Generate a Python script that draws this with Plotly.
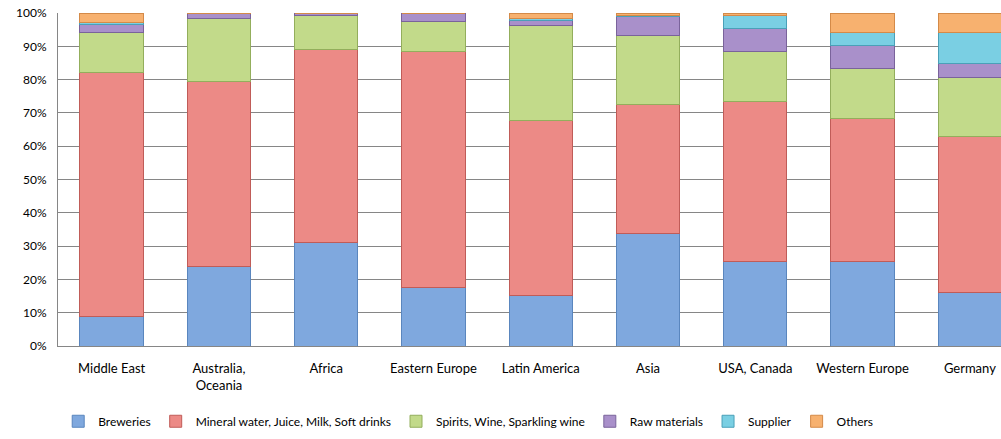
import plotly.graph_objects as go

regions = ["Middle East", "Australia,<br>Oceania", "Africa", "Eastern Europe", "Latin America",
           "Asia", "USA, Canada", "Western Europe", "Germany"]

breweries = [9.0, 24.0, 31.0, 17.7, 15.2, 33.8, 25.4, 25.4, 16.0]
mineral   = [73.0, 55.5, 58.0, 70.6, 52.6, 38.7, 47.9, 42.9, 46.8]
spirits   = [12.0, 19.0, 10.3, 9.2, 28.5, 20.8, 15.0, 15.0, 17.8]
raw       = [2.5, 1.5, 0.7, 2.5, 1.5, 5.7, 7.0, 6.8, 4.2]
supplier  = [0.5, 0.0, 0.0, 0.0, 0.7, 0.3, 4.0, 3.9, 9.2]
others    = [3.0, 0.0, 0.0, 0.0, 1.5, 0.7, 0.7, 6.0, 6.0]

y_tick_values = [0, 10, 20, 30, 40, 50, 60, 70, 80, 90, 100]
y_tick_labels = ["0%", "10%", "20%", "30%", "40%", "50%", "60%", "70%", "80%", "90%", "100%"]

series = [
    ("Breweries", breweries, "#7FA8DE", "#5A86BE"),
    ("Mineral water, Juice, Milk, Soft drinks", mineral, "#EC8A86", "#C05C58"),
    ("Spirits, Wine, Sparkling wine", spirits, "#C2DA8A", "#93AE5C"),
    ("Raw materials", raw, "#A990CA", "#7A639B"),
    ("Supplier", supplier, "#7ACFE3", "#4AA0B8"),
    ("Others", others, "#F7B16F", "#D48A48"),
]

FONT = "Lato, sans-serif"

fig = go.Figure()
for name, vals, col, edge in series:
    fig.add_trace(go.Bar(
        x=list(range(len(regions))), y=vals, name=name,
        marker=dict(color=col, line=dict(color=edge, width=1)),
    ))

fig.update_layout(
    barmode="stack",
    bargap=0.41,
    width=1001, height=439,
    margin=dict(l=58, r=0, t=13, b=93),
    paper_bgcolor="white", plot_bgcolor="white",
    font=dict(family=FONT, size=13, color="#000000"),
    legend=dict(orientation="h", x=0.435, xanchor="center", y=-0.226, yanchor="middle",
                font=dict(family=FONT, size=12), itemwidth=30, traceorder="normal"),
    xaxis=dict(
        tickmode="array", tickvals=list(range(len(regions))), ticktext=regions,
        range=[-0.5, 8.29], showgrid=False, showline=True, linecolor="#868686", linewidth=1,
        ticks="", tickfont=dict(family=FONT, size=13), ticklabelstandoff=10,
    ),
    yaxis=dict(
        range=[0, 100], tickmode="array", tickvals=y_tick_values, ticktext=y_tick_labels,
        showgrid=True, gridcolor="#868686", gridwidth=1,
        showline=True, linecolor="#868686", linewidth=1, zeroline=False,
        ticks="", tickfont=dict(family=FONT, size=12), ticklabelstandoff=8,
    ),
)

fig.write_html("out.html")
